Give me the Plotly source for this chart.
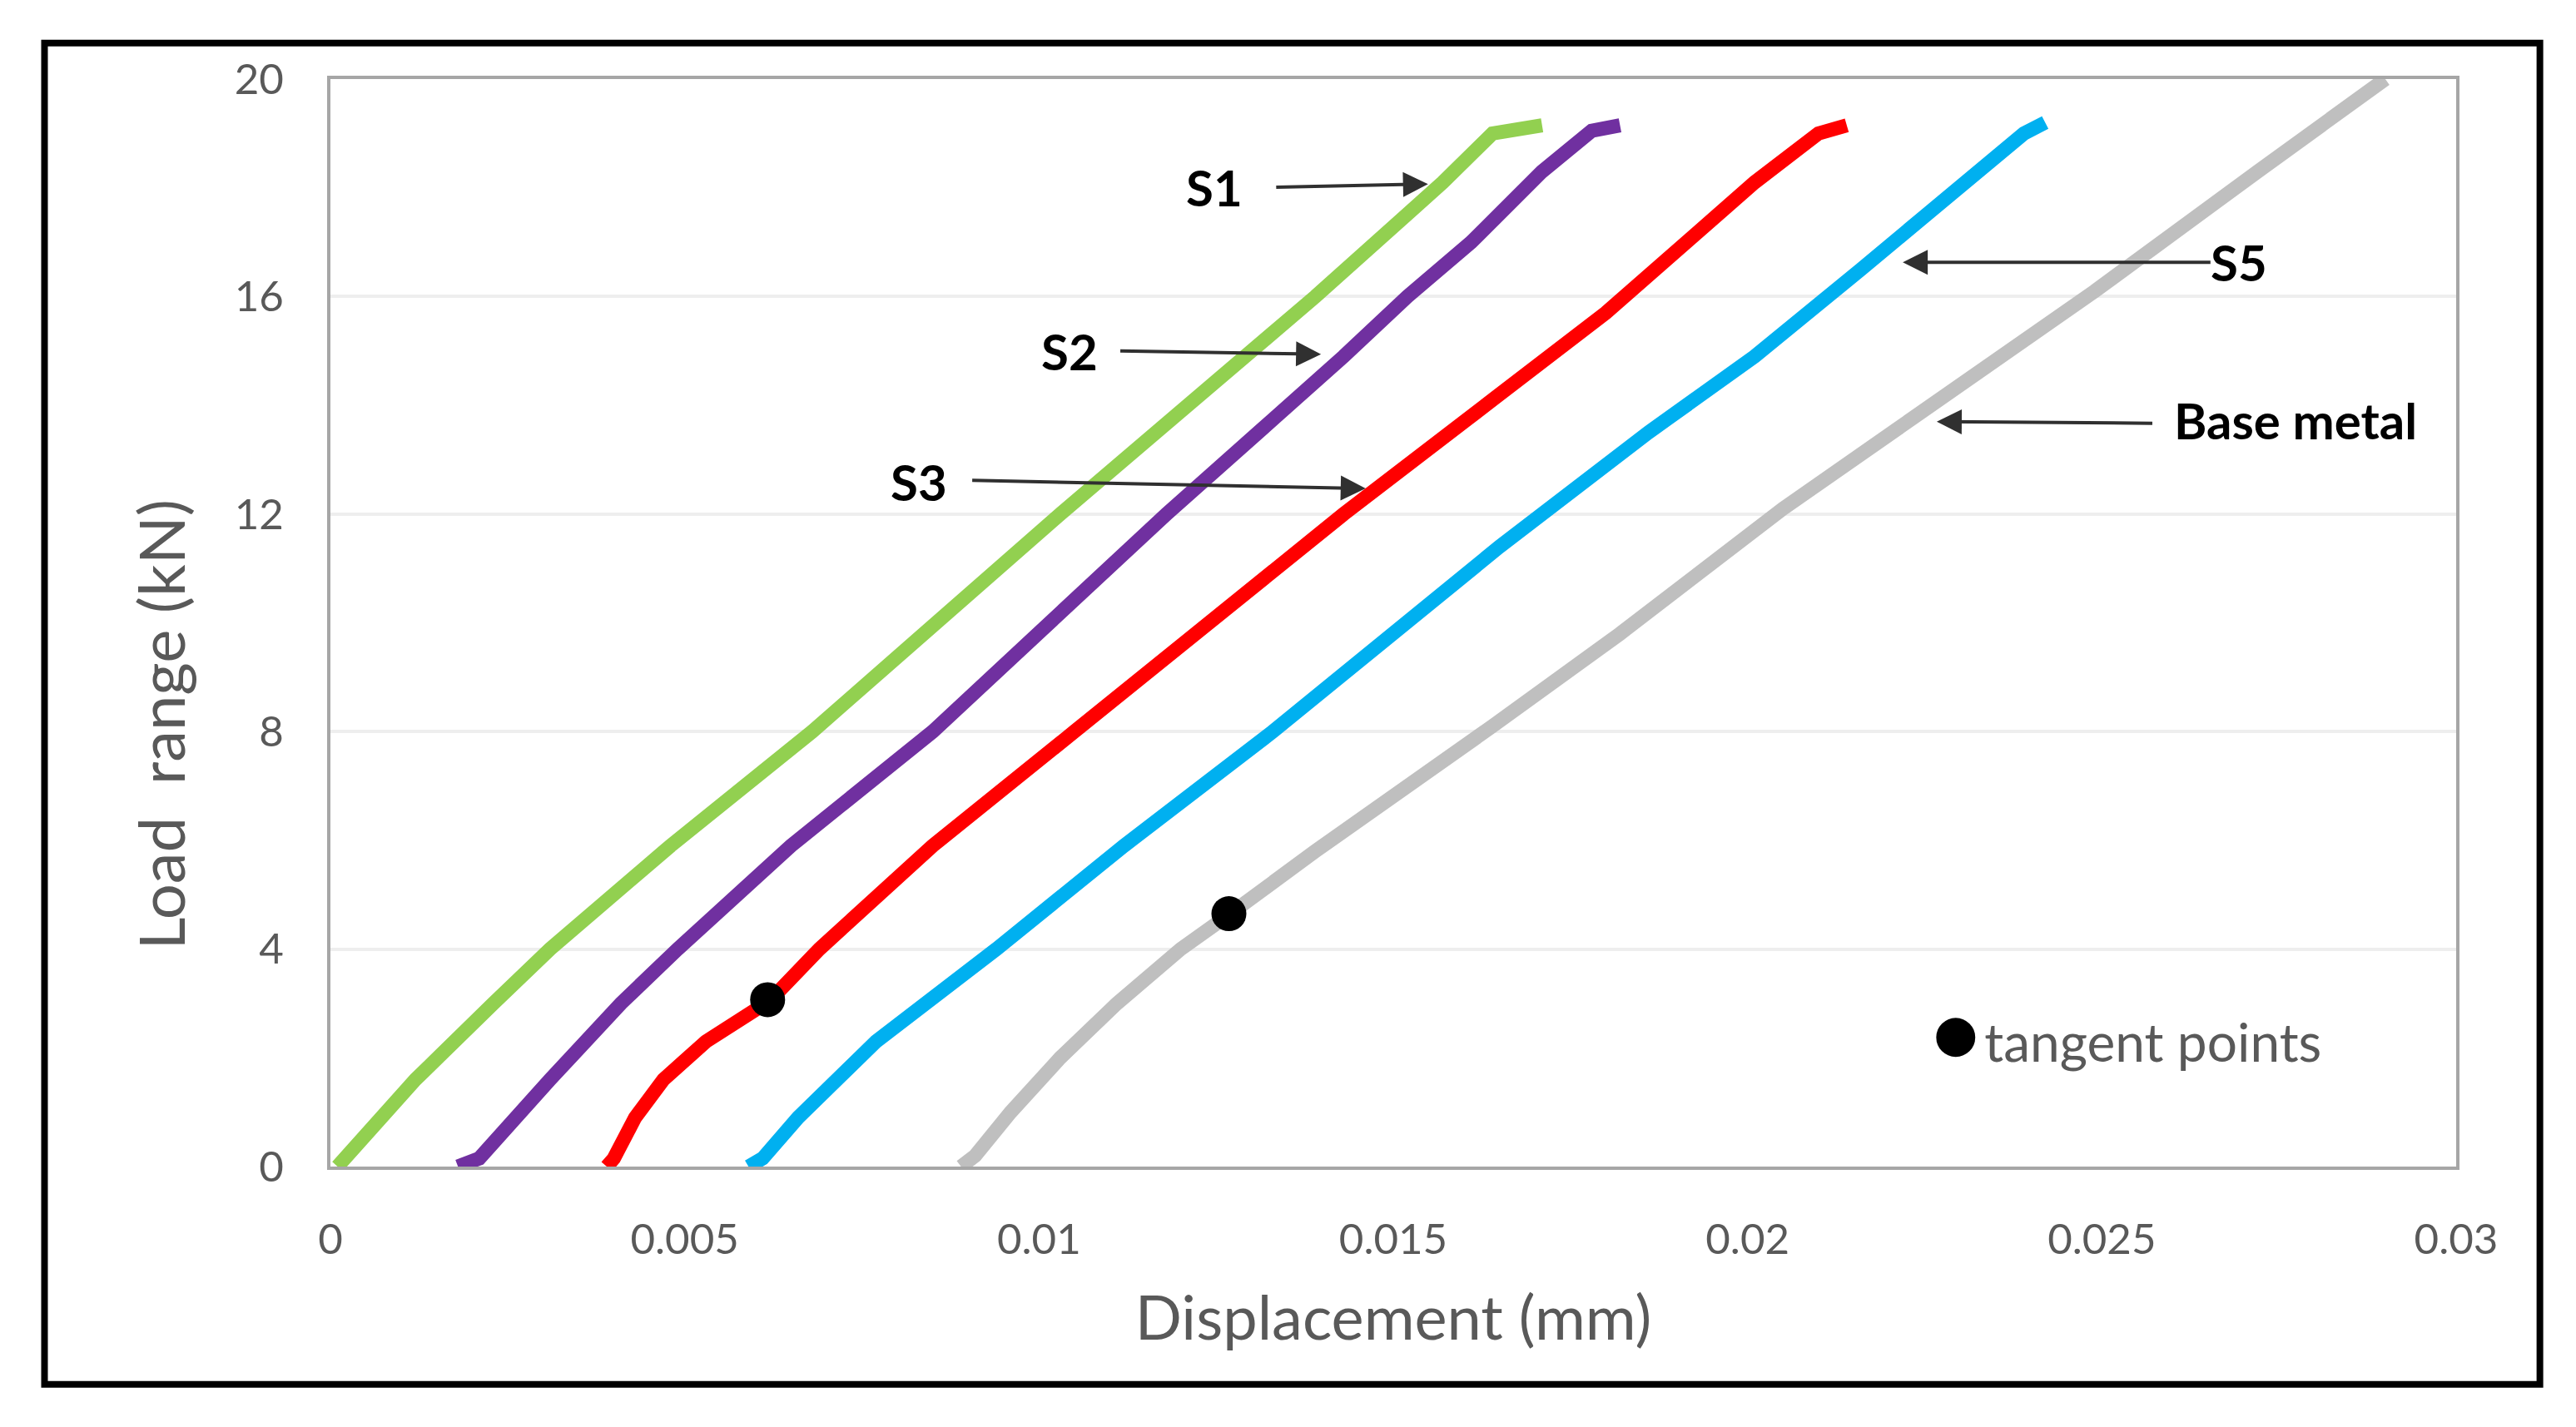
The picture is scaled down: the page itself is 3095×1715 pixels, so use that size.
import plotly.graph_objects as go

# displacement (mm) / load range (kN)
s1_x = [0.0001, 0.0012, 0.0023, 0.0031, 0.0048, 0.0068, 0.0103, 0.0129, 0.0139, 0.0157, 0.0164, 0.0171]
s1_y = [0.0, 1.6, 3.0, 4.0, 5.9, 8.0, 12.0, 14.9, 16.0, 18.1, 19.0, 19.15]

s2_x = [0.0018, 0.0021, 0.0031, 0.0041, 0.0049, 0.0065, 0.0085, 0.0118, 0.0143, 0.0152, 0.0161, 0.0171, 0.0178, 0.0182]
s2_y = [0.0, 0.15, 1.6, 3.0, 4.0, 5.9, 8.0, 12.0, 14.9, 16.0, 17.0, 18.3, 19.05, 19.15]

s3_x = [0.0039, 0.0040, 0.0043, 0.0047, 0.0053, 0.0062, 0.0069, 0.0085, 0.0105, 0.0143, 0.0164, 0.0180, 0.0201, 0.0210, 0.0214]
s3_y = [0.0, 0.15, 0.9, 1.6, 2.3, 3.05, 4.0, 5.9, 8.0, 12.0, 14.1, 15.7, 18.1, 19.0, 19.15]

s5_x = [0.0059, 0.0061, 0.0066, 0.0077, 0.0094, 0.0112, 0.0133, 0.0165, 0.0186, 0.0201, 0.0216, 0.0231, 0.0239, 0.0242]
s5_y = [0.0, 0.15, 0.9, 2.3, 4.0, 5.9, 8.0, 11.4, 13.5, 14.9, 16.5, 18.1, 19.0, 19.2]

base_x = [0.0089, 0.0091, 0.0096, 0.0103, 0.0111, 0.0120, 0.0127, 0.0139, 0.0164, 0.0182, 0.0205, 0.0225, 0.0249, 0.0272, 0.0290]
base_y = [0.0, 0.2, 1.0, 2.0, 3.0, 4.0, 4.65, 5.8, 8.1, 9.8, 12.1, 13.9, 16.1, 18.3, 20.0]

tangent_x = [0.00617, 0.01268]
tangent_y = [3.07, 4.65]

x_ticks = [0, 0.005, 0.01, 0.015, 0.02, 0.025, 0.03]
x_tick_text = ["0", "0.005", "0.01", "0.015", "0.02", "0.025", "0.03"]
y_ticks = [0, 4, 8, 12, 16, 20]

# label text, text position, arrow tail, arrow head
labels = ["S1", "S2", "S3", "S5", "Base metal"]
label_x = [0.01247, 0.01043, 0.0083, 0.02694, 0.02773]
label_y = [18.01, 15.0, 12.6, 16.63, 13.73]
tail_x = [0.01333, 0.01113, 0.00904, 0.02655, 0.02573]
tail_y = [18.01, 15.0, 12.62, 16.63, 13.67]
head_x = [0.01549, 0.01398, 0.01461, 0.02219, 0.02267]
head_y = [18.07, 14.94, 12.47, 16.63, 13.70]

font = "Lato, Open Sans, sans-serif"
grey_txt = "#595959"

fig = go.Figure()
fig.add_trace(go.Scatter(x=s1_x, y=s1_y, mode="lines", line=dict(color="#92D050", width=17), name="S1"))
fig.add_trace(go.Scatter(x=s2_x, y=s2_y, mode="lines", line=dict(color="#7030A0", width=17), name="S2"))
fig.add_trace(go.Scatter(x=s3_x, y=s3_y, mode="lines", line=dict(color="#FF0000", width=17), name="S3"))
fig.add_trace(go.Scatter(x=s5_x, y=s5_y, mode="lines", line=dict(color="#00B0F0", width=17), name="S5"))
fig.add_trace(go.Scatter(x=base_x, y=base_y, mode="lines", line=dict(color="#BFBFBF", width=17), name="Base metal"))
fig.add_trace(go.Scatter(x=tangent_x, y=tangent_y, mode="markers",
                         marker=dict(color="black", size=42), name="tangent points"))

for i in range(len(labels)):
    fig.add_annotation(x=label_x[i], y=label_y[i], text="<b>" + labels[i] + "</b>", showarrow=False,
                       xanchor="center", yanchor="middle", font=dict(family=font, size=60, color="black"))
    fig.add_annotation(x=head_x[i], y=head_y[i], ax=tail_x[i], ay=tail_y[i], axref="x", ayref="y",
                       text="", showarrow=True, arrowhead=2, arrowsize=1.5, arrowwidth=4,
                       arrowcolor="#303030", standoff=0, startstandoff=0)

fig.add_annotation(x=0.02258, y=2.5, xanchor="left", yanchor="middle", showarrow=False,
                   text="<span style='font-size:96px;color:black'>●</span>"
                        "<span style='font-size:22px'> </span>tangent points",
                   font=dict(family=font, size=64, color="#595959"))

# y axis title sits below the centre of the axis, as in the original
fig.add_annotation(xref="paper", yref="paper", x=-0.0799, y=0.4066, textangle=-90, showarrow=False,
                   xanchor="center", yanchor="middle", text="Load  range (kN)",
                   font=dict(family=font, size=76, color=grey_txt))

fig.add_shape(type="rect", xref="paper", yref="paper", x0=-0.1345, x1=1.0394, y0=-0.2003, y1=1.0331,
              line=dict(color="black", width=8))

fig.update_xaxes(range=[0, 0.03], tickvals=x_ticks, ticktext=x_tick_text,
                 showline=True, mirror=True, linecolor="#A6A6A6", linewidth=4,
                 showgrid=False, zeroline=False, ticks="", ticklabelstandoff=40,
                 tickfont=dict(family=font, size=51, color=grey_txt),
                 title=dict(text="Displacement (mm)", font=dict(family=font, size=74, color=grey_txt), standoff=42))
fig.update_yaxes(range=[0, 20], tickvals=y_ticks,
                 showline=True, mirror=True, linecolor="#A6A6A6", linewidth=4,
                 showgrid=True, gridcolor="#EEEEEE", gridwidth=4, zeroline=False, ticks="", ticklabelstandoff=42,
                 tickfont=dict(family=font, size=51, color=grey_txt))

fig.update_layout(width=3095, height=1715, showlegend=False,
                  margin=dict(l=389, r=152, t=87, b=321),
                  plot_bgcolor="white", paper_bgcolor="white")

fig.write_html("out.html")
